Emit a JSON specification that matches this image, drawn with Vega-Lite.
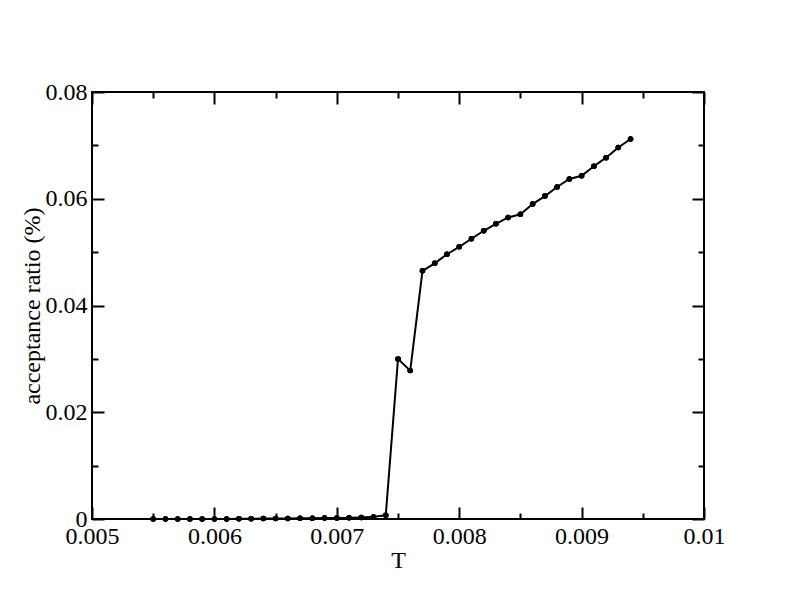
{
  "$schema": "https://vega.github.io/schema/vega-lite/v6.json",
  "width": 612,
  "height": 427,
  "autosize": "none",
  "padding": {"left": 92, "top": 92, "right": 88, "bottom": 93},
  "background": "white",
  "config": {
    "view": {"stroke": "black", "strokeWidth": 2},
    "axis": {
      "domain": false,
      "grid": false,
      "labelFont": "Liberation Serif",
      "titleFont": "Liberation Serif",
      "labelFontSize": 24,
      "titleFontSize": 24,
      "titleFontWeight": "normal",
      "labelColor": "black",
      "titleColor": "black",
      "tickColor": "black",
      "tickWidth": 2,
      "labelFlush": false,
      "labelOverlap": false
    }
  },
  "data": {
    "values": [
      {"T": 0.0055, "ratio": 0},
      {"T": 0.0056, "ratio": 0},
      {"T": 0.0057, "ratio": 0},
      {"T": 0.0058, "ratio": 0},
      {"T": 0.0059, "ratio": 0},
      {"T": 0.0060, "ratio": 0},
      {"T": 0.0061, "ratio": 0},
      {"T": 0.0062, "ratio": 0.00003},
      {"T": 0.0063, "ratio": 0.00005},
      {"T": 0.0064, "ratio": 0.0001},
      {"T": 0.0065, "ratio": 0.0001},
      {"T": 0.0066, "ratio": 0.0001},
      {"T": 0.0067, "ratio": 0.00012},
      {"T": 0.0068, "ratio": 0.00015},
      {"T": 0.0069, "ratio": 0.0002},
      {"T": 0.0070, "ratio": 0.0002},
      {"T": 0.0071, "ratio": 0.00022},
      {"T": 0.0072, "ratio": 0.0003},
      {"T": 0.0073, "ratio": 0.0004},
      {"T": 0.0074, "ratio": 0.0007},
      {"T": 0.0075, "ratio": 0.0300},
      {"T": 0.0076, "ratio": 0.0278},
      {"T": 0.0077, "ratio": 0.0465},
      {"T": 0.0078, "ratio": 0.0479},
      {"T": 0.0079, "ratio": 0.0496},
      {"T": 0.0080, "ratio": 0.0510},
      {"T": 0.0081, "ratio": 0.0525},
      {"T": 0.0082, "ratio": 0.0540},
      {"T": 0.0083, "ratio": 0.0553},
      {"T": 0.0084, "ratio": 0.0565},
      {"T": 0.0085, "ratio": 0.0571},
      {"T": 0.0086, "ratio": 0.0590},
      {"T": 0.0087, "ratio": 0.0605},
      {"T": 0.0088, "ratio": 0.0622},
      {"T": 0.0089, "ratio": 0.0637},
      {"T": 0.0090, "ratio": 0.0643},
      {"T": 0.0091, "ratio": 0.0661},
      {"T": 0.0092, "ratio": 0.0677},
      {"T": 0.0093, "ratio": 0.0696},
      {"T": 0.0094, "ratio": 0.0712}
    ]
  },
  "layer": [
    {
      "mark": {"type": "line", "color": "black", "strokeWidth": 2},
      "encoding": {
        "x": {"field": "T", "type": "quantitative", "scale": {"domain": [0.005, 0.01], "nice": false, "zero": false},
          "axis": {"orient": "bottom", "title": "T", "values": [0.005, 0.006, 0.007, 0.008, 0.009, 0.01], "tickSize": -12, "labelPadding": 17, "labelExpr": "'' + datum.value", "titlePadding": 0}},
        "y": {"field": "ratio", "type": "quantitative", "scale": {"domain": [0, 0.08], "nice": false},
          "axis": {"orient": "left", "title": "acceptance ratio (%)", "values": [0, 0.02, 0.04, 0.06, 0.08], "tickSize": -12, "labelPadding": 17, "labelExpr": "'' + datum.value", "titlePadding": 1}}
      }
    },
    {
      "mark": {"type": "point", "filled": true, "color": "black", "size": 30, "opacity": 1},
      "encoding": {
        "x": {"field": "T", "type": "quantitative", "scale": {"domain": [0.005, 0.01], "nice": false, "zero": false},
          "axis": {"orient": "top", "title": null, "labels": false, "values": [0.005, 0.006, 0.007, 0.008, 0.009, 0.01], "tickSize": -12}},
        "y": {"field": "ratio", "type": "quantitative", "scale": {"domain": [0, 0.08], "nice": false},
          "axis": {"orient": "right", "title": null, "labels": false, "values": [0, 0.02, 0.04, 0.06, 0.08], "tickSize": -12}}
      }
    },
    {
      "mark": {"type": "point", "filled": true, "color": "black", "size": 30, "opacity": 1},
      "encoding": {
        "x": {"field": "T", "type": "quantitative", "scale": {"domain": [0.005, 0.01], "nice": false, "zero": false},
          "axis": {"orient": "bottom", "title": null, "labels": false, "values": [0.0055, 0.0065, 0.0075, 0.0085, 0.0095], "tickSize": -6}},
        "y": {"field": "ratio", "type": "quantitative", "scale": {"domain": [0, 0.08], "nice": false},
          "axis": {"orient": "left", "title": null, "labels": false, "values": [0.01, 0.03, 0.05, 0.07], "tickSize": -6}}
      }
    },
    {
      "mark": {"type": "point", "filled": true, "color": "black", "size": 30, "opacity": 1},
      "encoding": {
        "x": {"field": "T", "type": "quantitative", "scale": {"domain": [0.005, 0.01], "nice": false, "zero": false},
          "axis": {"orient": "top", "title": null, "labels": false, "values": [0.0055, 0.0065, 0.0075, 0.0085, 0.0095], "tickSize": -6}},
        "y": {"field": "ratio", "type": "quantitative", "scale": {"domain": [0, 0.08], "nice": false},
          "axis": {"orient": "right", "title": null, "labels": false, "values": [0.01, 0.03, 0.05, 0.07], "tickSize": -6}}
      }
    }
  ],
  "resolve": {"axis": {"x": "independent", "y": "independent"}}
}
